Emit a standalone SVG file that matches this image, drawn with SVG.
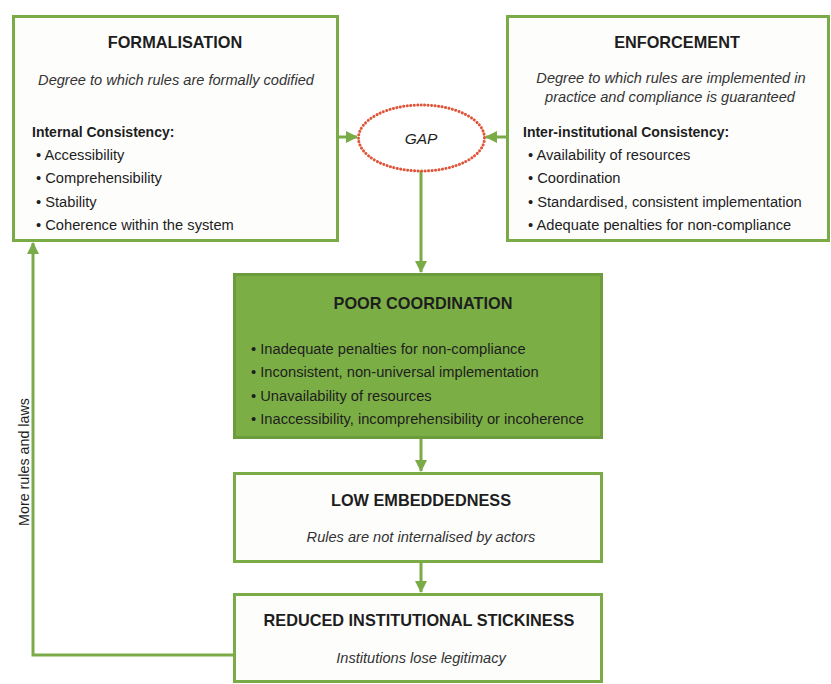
<svg xmlns="http://www.w3.org/2000/svg" width="831" height="684" viewBox="0 0 831 684">
<defs>
<style>
.box{fill:#fdfdfc;stroke:#7aab47;stroke-width:3}
.dark{fill:#7cae46;stroke:#6c9c3b;stroke-width:3}
.t{font-family:"Liberation Sans",Arial,sans-serif;fill:#1e1e1e}
.title{font-size:16.3px;font-weight:bold;text-anchor:middle}
.sub{font-size:14.6px;font-style:italic;text-anchor:middle;fill:#333}
.head{font-size:14px;font-weight:bold}
.item{font-size:14.7px}
.conn{fill:none;stroke:#7aab47;stroke-width:3}
</style>
<marker id="ah" markerUnits="userSpaceOnUse" markerWidth="12" markerHeight="12" refX="11" refY="6" orient="auto">
<path d="M0,0 L12,6 L0,12 Z" fill="#7aab47"/>
</marker>
</defs>
<rect width="831" height="684" fill="#ffffff"/>

<g id="connectors">
<line class="conn" x1="338" y1="137" x2="357" y2="137" marker-end="url(#ah)"/>
<line class="conn" x1="507" y1="137" x2="486" y2="137" marker-end="url(#ah)"/>
<line class="conn" x1="421" y1="171" x2="421" y2="272" marker-end="url(#ah)"/>
<line class="conn" x1="421" y1="439" x2="421" y2="471" marker-end="url(#ah)"/>
<line class="conn" x1="421" y1="562" x2="421" y2="592" marker-end="url(#ah)"/>
<polyline class="conn" points="233,655 33,655 33,243" marker-end="url(#ah)"/>
<text class="t" transform="translate(29,462) rotate(-90)" font-size="14.3" text-anchor="middle" fill="#333">More rules and laws</text>
</g>

<g id="formalisation">
<rect class="box" x="13.5" y="16.5" width="324" height="224"/>
<text class="t title" x="175" y="48">FORMALISATION</text>
<text class="t sub" x="176" y="85">Degree to which rules are formally codified</text>
<text class="t head" x="32" y="137">Internal Consistency:</text>
<text class="t item" x="36" y="160">• Accessibility</text>
<text class="t item" x="36" y="183">• Comprehensibility</text>
<text class="t item" x="36" y="207">• Stability</text>
<text class="t item" x="36" y="230">• Coherence within the system</text>
</g>

<g id="enforcement">
<rect class="box" x="507.5" y="16.5" width="321" height="224"/>
<text class="t title" x="677" y="48">ENFORCEMENT</text>
<text class="t sub" x="671" y="83">Degree to which rules are implemented in</text>
<text class="t sub" x="670" y="102">practice and compliance is guaranteed</text>
<text class="t head" x="523" y="137">Inter-institutional Consistency:</text>
<text class="t item" x="528" y="160">• Availability of resources</text>
<text class="t item" x="528" y="183">• Coordination</text>
<text class="t item" x="528" y="207">• Standardised, consistent implementation</text>
<text class="t item" x="528" y="230">• Adequate penalties for non-compliance</text>
</g>

<g id="gap">
<ellipse cx="421.5" cy="138" rx="63" ry="33" fill="#ffffff" stroke="#e0553a" stroke-width="3" stroke-dasharray="0.1 3.4" stroke-linecap="round"/>
<text class="t" x="421" y="144" font-size="15.5" font-style="italic" text-anchor="middle" fill="#333">GAP</text>
</g>

<g id="poor-coordination">
<rect class="dark" x="234.5" y="274.5" width="367" height="163"/>
<text class="t title" x="423" y="309" fill="#1a1a1a">POOR COORDINATION</text>
<text class="t item" x="251" y="354" fill="#1a1a1a">• Inadequate penalties for non-compliance</text>
<text class="t item" x="251" y="377" fill="#1a1a1a">• Inconsistent, non-universal implementation</text>
<text class="t item" x="251" y="401" fill="#1a1a1a">• Unavailability of resources</text>
<text class="t item" x="251" y="424" fill="#1a1a1a">• Inaccessibility, incomprehensibility or incoherence</text>
</g>

<g id="low-embeddedness">
<rect class="box" x="234.5" y="473.5" width="367" height="88"/>
<text class="t title" x="421" y="506">LOW EMBEDDEDNESS</text>
<text class="t sub" x="421" y="542">Rules are not internalised by actors</text>
</g>

<g id="reduced-stickiness">
<rect class="box" x="234.5" y="594.5" width="367" height="87"/>
<text class="t title" x="419" y="626">REDUCED INSTITUTIONAL STICKINESS</text>
<text class="t sub" x="421" y="663">Institutions lose legitimacy</text>
</g>
</svg>
